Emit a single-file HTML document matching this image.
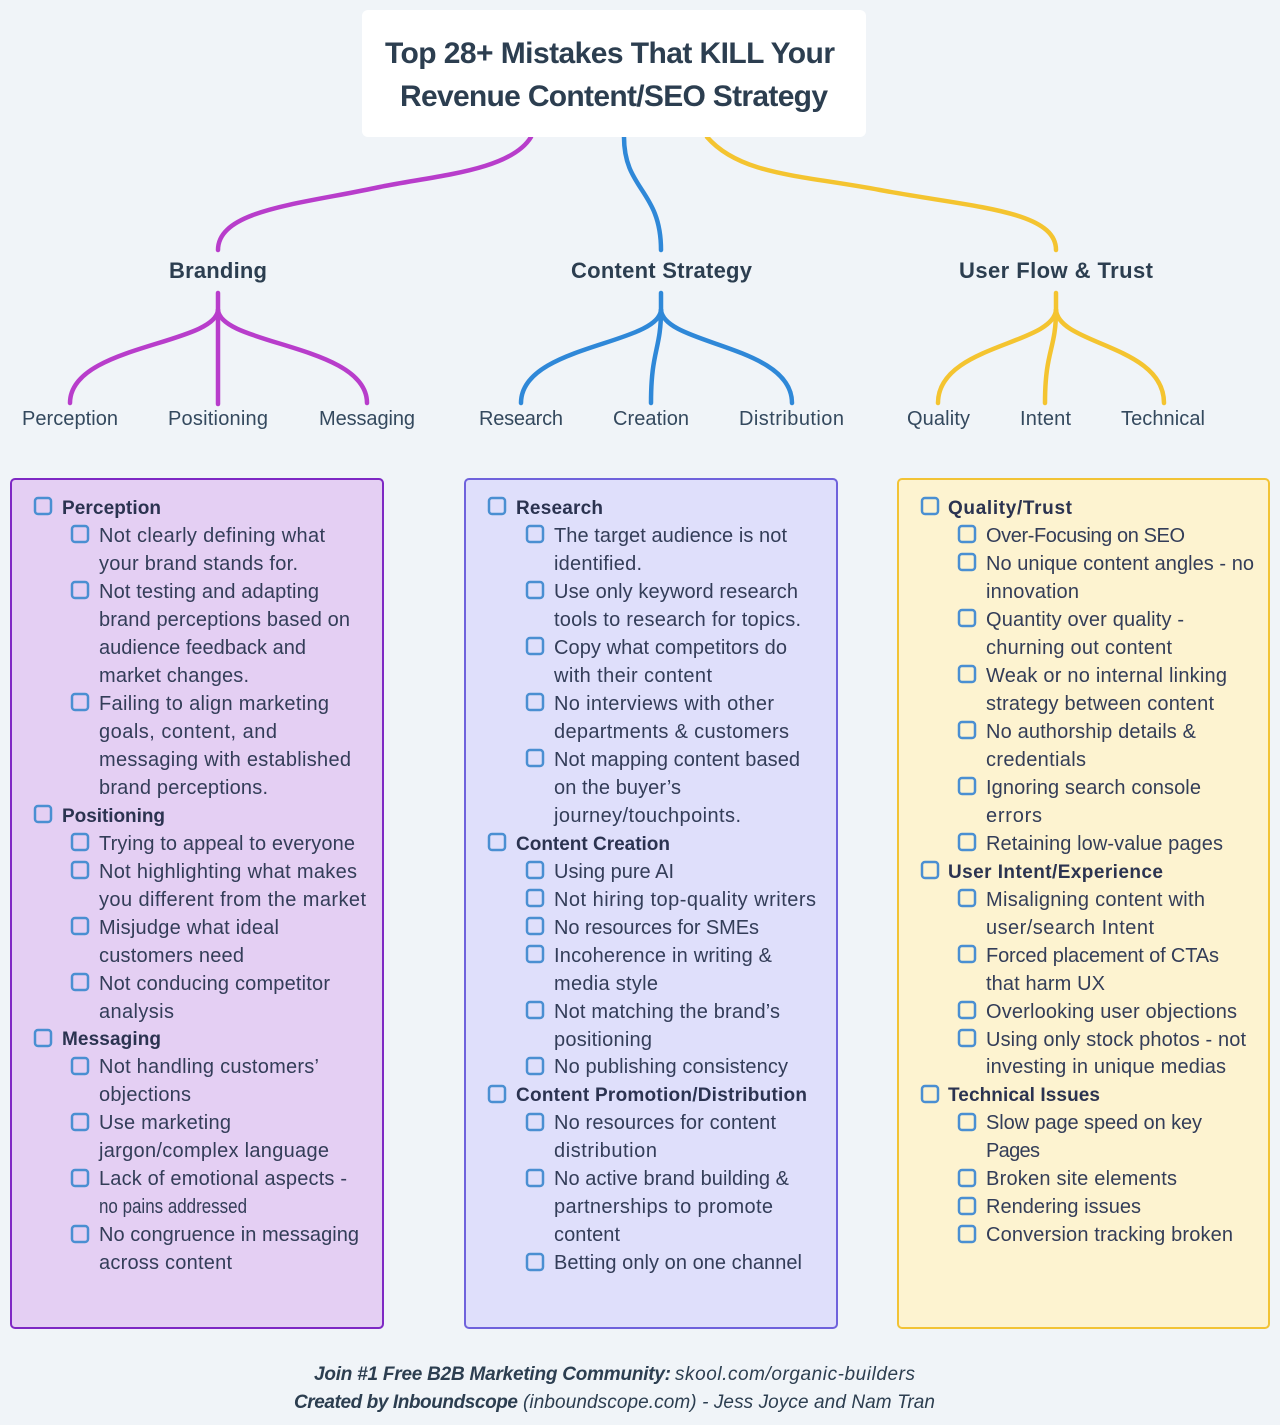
<!DOCTYPE html>
<html lang="en"><head><meta charset="utf-8"><title>Top 28+ Mistakes</title>
<style>
html,body{margin:0;padding:0;background:#f0f4f8}
svg{display:block}
text{font-family:"Liberation Sans",sans-serif}
.i{font-size:20px;fill:#333d58}
.h{font-size:19px;font-weight:700;fill:#2b3350}
.t{font-size:30px;font-weight:700;fill:#2c3e50}
.b{font-size:22px;font-weight:700;fill:#2c3e50}
.l{font-size:20px;fill:#34495e}
.f{font-size:19px;font-style:italic;fill:#2c3e50}
.fb{font-size:19px;font-style:italic;font-weight:700;fill:#2c3e50}
.c rect{fill:none;stroke:#4a8fd2;stroke-width:2.5;width:16px;height:16px;rx:3px}
.p{fill:none;stroke-width:4.5;stroke-linecap:round}
</style></head><body>
<svg width="1280" height="1425" viewBox="0 0 1280 1425" xmlns="http://www.w3.org/2000/svg">
<rect width="1280" height="1425" fill="#f0f4f8"/>
<g class="p" stroke="#b83dcb">
<path d="M531 137C510 172 430 176 375 188C300 204 218 210 218 250"/>
<path d="M218 293V404"/>
<path d="M218 310C215 345 70 345 70 403"/>
<path d="M218 310C221 345 367 345 367 403"/>
</g>
<g class="p" stroke="#2f88d8">
<path d="M624 137C624 190 661 190 661 250"/>
<path d="M661 293V315"/>
<path d="M661 310C658 345 521 345 521 403"/>
<path d="M661 310C661 350 651 350 651 403"/>
<path d="M661 310C664 345 792 345 792 403"/>
</g>
<g class="p" stroke="#f4c430">
<path d="M707 137C740 175 800 175 880 190C970 207 1056 210 1056 250"/>
<path d="M1056 293V315"/>
<path d="M1056 310C1053 345 938 345 938 403"/>
<path d="M1056 310C1056 350 1045 350 1045 403"/>
<path d="M1056 310C1059 345 1164 345 1164 403"/>
</g>
<rect x="362" y="10" width="504" height="127" rx="6" fill="#fff"/>
<text class="t" x="385" y="63" textLength="450">Top 28+ Mistakes That KILL Your</text>
<text class="t" x="400" y="106" textLength="428">Revenue Content/SEO Strategy</text>
<text class="b" x="169" y="278" textLength="98">Branding</text>
<text class="b" x="571" y="278" textLength="181">Content Strategy</text>
<text class="b" x="959" y="278" textLength="194">User Flow &amp; Trust</text>
<text class="l" x="22" y="425" textLength="96">Perception</text>
<text class="l" x="168" y="425" textLength="100">Positioning</text>
<text class="l" x="319" y="425" textLength="96">Messaging</text>
<text class="l" x="479" y="425" textLength="84">Research</text>
<text class="l" x="613" y="425" textLength="76">Creation</text>
<text class="l" x="739" y="425" textLength="105">Distribution</text>
<text class="l" x="907" y="425" textLength="63">Quality</text>
<text class="l" x="1020" y="425" textLength="51">Intent</text>
<text class="l" x="1121" y="425" textLength="84">Technical</text>

<rect x="11" y="479" width="372" height="849" rx="4" fill="#e4cff3" stroke="#7e28c4" stroke-width="2"/>
<rect x="465" y="479" width="372" height="849" rx="4" fill="#dfdffb" stroke="#6f62dc" stroke-width="2"/>
<rect x="898" y="479" width="371" height="849" rx="4" fill="#fdf3d0" stroke="#f2c335" stroke-width="2"/>

<g class="c">
<rect x="35" y="498"/><rect x="35" y="806"/><rect x="35" y="1030"/>
<rect x="72" y="526"/><rect x="72" y="582"/><rect x="72" y="694"/><rect x="72" y="834"/><rect x="72" y="862"/><rect x="72" y="918"/><rect x="72" y="974"/><rect x="72" y="1058"/><rect x="72" y="1114"/><rect x="72" y="1170"/><rect x="72" y="1226"/>
<rect x="489" y="498"/><rect x="489" y="834"/><rect x="489" y="1086"/>
<rect x="527" y="526"/><rect x="527" y="582"/><rect x="527" y="638"/><rect x="527" y="694"/><rect x="527" y="750"/><rect x="527" y="862"/><rect x="527" y="890"/><rect x="527" y="918"/><rect x="527" y="946"/><rect x="527" y="1002"/><rect x="527" y="1058"/><rect x="527" y="1114"/><rect x="527" y="1170"/><rect x="527" y="1254"/>
<rect x="922" y="498"/><rect x="922" y="862"/><rect x="922" y="1086"/>
<rect x="959" y="526"/><rect x="959" y="554"/><rect x="959" y="610"/><rect x="959" y="666"/><rect x="959" y="722"/><rect x="959" y="778"/><rect x="959" y="834"/><rect x="959" y="890"/><rect x="959" y="946"/><rect x="959" y="1002"/><rect x="959" y="1030"/><rect x="959" y="1114"/><rect x="959" y="1170"/><rect x="959" y="1198"/><rect x="959" y="1226"/>
</g>

<text class="h" x="62" y="514" textLength="99">Perception</text>
<text class="i" x="99" y="542" textLength="226">Not clearly defining what</text>
<text class="i" x="99" y="570" textLength="199">your brand stands for.</text>
<text class="i" x="99" y="598" textLength="220">Not testing and adapting</text>
<text class="i" x="99" y="626" textLength="251">brand perceptions based on</text>
<text class="i" x="99" y="654" textLength="207">audience feedback and</text>
<text class="i" x="99" y="682" textLength="150">market changes.</text>
<text class="i" x="99" y="710" textLength="230">Failing to align marketing</text>
<text class="i" x="99" y="738" textLength="178">goals, content, and</text>
<text class="i" x="99" y="766" textLength="252">messaging with established</text>
<text class="i" x="99" y="794" textLength="169">brand perceptions.</text>
<text class="h" x="62" y="822" textLength="103">Positioning</text>
<text class="i" x="99" y="850" textLength="256">Trying to appeal to everyone</text>
<text class="i" x="99" y="878" textLength="258">Not highlighting what makes</text>
<text class="i" x="99" y="906" textLength="267">you different from the market</text>
<text class="i" x="99" y="934" textLength="180">Misjudge what ideal</text>
<text class="i" x="99" y="962" textLength="145">customers need</text>
<text class="i" x="99" y="990" textLength="231">Not conducing competitor</text>
<text class="i" x="99" y="1018" textLength="75">analysis</text>
<text class="h" x="62" y="1045" textLength="99">Messaging</text>
<text class="i" x="99" y="1073" textLength="220">Not handling customers’</text>
<text class="i" x="99" y="1101" textLength="92">objections</text>
<text class="i" x="99" y="1129" textLength="132">Use marketing</text>
<text class="i" x="99" y="1157" textLength="230">jargon/complex language</text>
<text class="i" x="99" y="1185" textLength="248">Lack of emotional aspects -</text>
<text class="i" x="99" y="1213" textLength="148" lengthAdjust="spacingAndGlyphs">no pains addressed</text>
<text class="i" x="99" y="1241" textLength="260">No congruence in messaging</text>
<text class="i" x="99" y="1269" textLength="133">across content</text>

<text class="h" x="516" y="514" textLength="87">Research</text>
<text class="i" x="554" y="542" textLength="233">The target audience is not</text>
<text class="i" x="554" y="570" textLength="88">identified.</text>
<text class="i" x="554" y="598" textLength="244">Use only keyword research</text>
<text class="i" x="554" y="626" textLength="247">tools to research for topics.</text>
<text class="i" x="554" y="654" textLength="233">Copy what competitors do</text>
<text class="i" x="554" y="682" textLength="158">with their content</text>
<text class="i" x="554" y="710" textLength="220">No interviews with other</text>
<text class="i" x="554" y="738" textLength="235">departments &amp; customers</text>
<text class="i" x="554" y="766" textLength="246">Not mapping content based</text>
<text class="i" x="554" y="794" textLength="127">on the buyer’s</text>
<text class="i" x="554" y="822" textLength="187">journey/touchpoints.</text>
<text class="h" x="516" y="850" textLength="154">Content Creation</text>
<text class="i" x="554" y="878" textLength="120">Using pure AI</text>
<text class="i" x="554" y="906" textLength="262">Not hiring top-quality writers</text>
<text class="i" x="554" y="934" textLength="205">No resources for SMEs</text>
<text class="i" x="554" y="962" textLength="218">Incoherence in writing &amp;</text>
<text class="i" x="554" y="990" textLength="104">media style</text>
<text class="i" x="554" y="1018" textLength="226">Not matching the brand’s</text>
<text class="i" x="554" y="1046" textLength="98">positioning</text>
<text class="i" x="554" y="1073" textLength="234">No publishing consistency</text>
<text class="h" x="516" y="1101" textLength="291">Content Promotion/Distribution</text>
<text class="i" x="554" y="1129" textLength="222">No resources for content</text>
<text class="i" x="554" y="1157" textLength="103">distribution</text>
<text class="i" x="554" y="1185" textLength="235">No active brand building &amp;</text>
<text class="i" x="554" y="1213" textLength="219">partnerships to promote</text>
<text class="i" x="554" y="1241" textLength="66">content</text>
<text class="i" x="554" y="1269" textLength="248">Betting only on one channel</text>

<text class="h" x="948" y="514" textLength="124">Quality/Trust</text>
<text class="i" x="986" y="542" textLength="199">Over-Focusing on SEO</text>
<text class="i" x="986" y="570" textLength="268">No unique content angles - no</text>
<text class="i" x="986" y="598" textLength="93">innovation</text>
<text class="i" x="986" y="626" textLength="198">Quantity over quality -</text>
<text class="i" x="986" y="654" textLength="186">churning out content</text>
<text class="i" x="986" y="682" textLength="241">Weak or no internal linking</text>
<text class="i" x="986" y="710" textLength="228">strategy between content</text>
<text class="i" x="986" y="738" textLength="210">No authorship details &amp;</text>
<text class="i" x="986" y="766" textLength="100">credentials</text>
<text class="i" x="986" y="794" textLength="215">Ignoring search console</text>
<text class="i" x="986" y="822" textLength="56">errors</text>
<text class="i" x="986" y="850" textLength="237">Retaining low-value pages</text>
<text class="h" x="948" y="878" textLength="215">User Intent/Experience</text>
<text class="i" x="986" y="906" textLength="219">Misaligning content with</text>
<text class="i" x="986" y="934" textLength="168">user/search Intent</text>
<text class="i" x="986" y="962" textLength="233">Forced placement of CTAs</text>
<text class="i" x="986" y="990" textLength="119">that harm UX</text>
<text class="i" x="986" y="1018" textLength="251">Overlooking user objections</text>
<text class="i" x="986" y="1046" textLength="260">Using only stock photos - not</text>
<text class="i" x="986" y="1073" textLength="240">investing in unique medias</text>
<text class="h" x="948" y="1101" textLength="152">Technical Issues</text>
<text class="i" x="986" y="1129" textLength="216">Slow page speed on key</text>
<text class="i" x="986" y="1157" textLength="54">Pages</text>
<text class="i" x="986" y="1185" textLength="191">Broken site elements</text>
<text class="i" x="986" y="1213" textLength="155">Rendering issues</text>
<text class="i" x="986" y="1241" textLength="247">Conversion tracking broken</text>

<text class="fb" x="314" y="1380" textLength="357">Join #1 Free B2B Marketing Community:</text>
<text class="f" x="675" y="1380" textLength="240">skool.com/organic-builders</text>
<text class="fb" x="294" y="1408" textLength="224">Created by Inboundscope</text>
<text class="f" x="523" y="1408" textLength="412">(inboundscope.com) - Jess Joyce and Nam Tran</text>
</svg>
</body></html>
